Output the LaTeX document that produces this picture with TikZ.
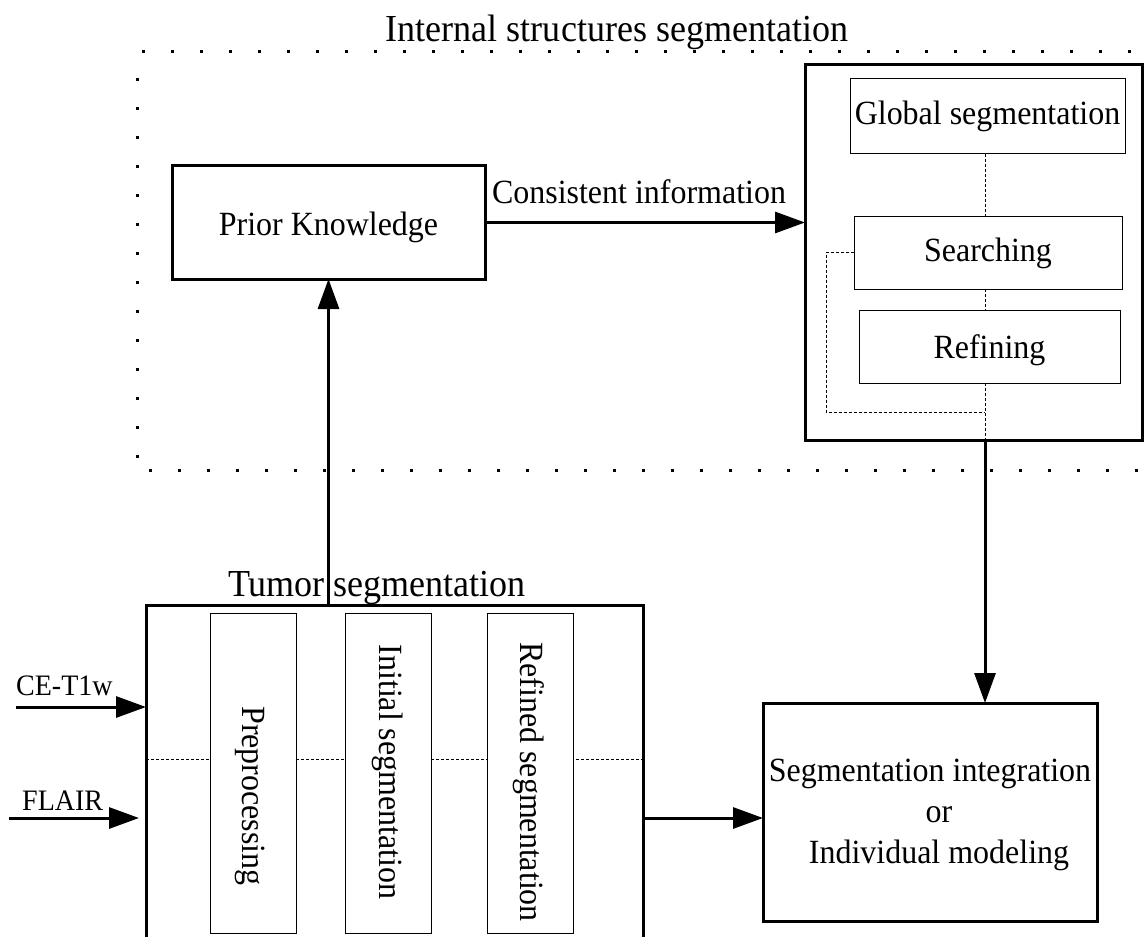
\documentclass[tikz,border=0pt]{standalone}
\usepackage{fontspec}
\setmainfont{Liberation Serif}[FakeStretch=0.943]
\usetikzlibrary{arrows.meta}
\begin{document}
\begin{tikzpicture}[x=1pt,y=-1pt,
  thick box/.style={draw, line width=3pt, inner sep=0pt, outer sep=0pt},
  thin box/.style={draw, line width=1pt, inner sep=0pt, outer sep=0pt, fill=white},
  body/.style={font=\fontsize{33.9}{41}\selectfont},
  big/.style={font=\fontsize{38.2}{45}\selectfont},
  small/.style={font=\fontsize{29.7}{36}\selectfont},
  inlabel/.style={label={[body, align=center, yshift=#1]center:}},
  arr/.style={line width=3pt, -{Triangle[length=30pt,width=21pt]}},
  dsh/.style={line width=0.8pt, dash pattern=on 3pt off 2pt},
  dots/.style={line width=3pt, dash pattern=on 3pt off 26pt},
]
\useasboundingbox (0,0) rectangle (1147,936);
\clip (0,0) rectangle (1147,936);

% dotted frame of the internal-structures stage (open on the right)
\draw[dots] (142,52) -- (1147,52);
\draw[dots] (137,78) -- (137,462);
\draw[dots] (149,470) -- (1147,470);
\node[big, anchor=base] (ttl) at (617,42) {Internal structures segmentation};

% internal structures stage
\node[thick box, minimum width=313pt, minimum height=113pt,
  label={[body, yshift=-5pt]center:Prior Knowledge}] (prior) at (328.5,222.5) {};
\node[thick box, minimum width=337pt, minimum height=375pt] (outer) at (973.5,252.5) {};
\node[thin box, minimum width=275pt, minimum height=75pt, body] (global) at (987.5,116.5) {Global segmentation};
\node[thin box, minimum width=268pt, minimum height=73pt,
  label={[body, yshift=-1pt]center:Searching}] (search) at (988,252.5) {};
\node[thin box, minimum width=261pt, minimum height=73pt,
  label={[body, yshift=-4pt]center:Refining}] (refine) at (989.5,346.5) {};

% final stage
\node[thick box, minimum width=334pt, minimum height=218pt,
  label={[body, align=center, yshift=-3pt]center:Segmentation integration\\\hspace*{18pt}or\\\hspace*{18pt}Individual modeling}]
  (seg) at (930,812) {};

% tumor segmentation stage (box runs past the lower edge)
\node[thick box, anchor=north west, minimum width=497pt, minimum height=360pt] (tumor) at (146,605) {};
\node[big, anchor=base] (tumT) at (377,596) {Tumor segmentation};

% dashed line through the tumor stage
\coordinate (my) at (0,759);
\draw[dsh] (tumor.west |- my) -- (tumor.east |- my);

\node[thin box, minimum width=86pt, minimum height=320pt] (pre) at (253,773.5) {};
\node[thin box, minimum width=86pt, minimum height=320pt] (init) at (388,773) {};
\node[thin box, minimum width=86pt, minimum height=320pt] (refd) at (530,773) {};
\node[body, rotate=-90] (preT) at (250,796) {Preprocessing};
\node[body, rotate=-90] (initT) at (388,772) {Initial segmentation};
\node[body, rotate=-90] (refdT) at (529,782) {Refined segmentation};

% inputs
\node[small, anchor=base west, inner sep=0pt] (ceL) at (16,695) {CE-T1w};
\node[small, anchor=base west, inner sep=0pt] (flL) at (22,810) {FLAIR};
\coordinate (ceS) at (16,707);
\coordinate (flS) at (9,818);
\coordinate (flE) at (139,818);
\draw[arr] (ceS) -- (ceS -| tumor.west);
\draw[arr] (flS) -- (flE);

% main connectors
\draw[arr] (prior.east) -- (prior.east -| outer.west);
\node[body, anchor=base, inner sep=0pt] (consL) at (639,204) {Consistent information};
\draw[arr] (prior.south |- tumor.north) -- (prior.south);
\coordinate (dx) at (985,0);
\draw[arr] (outer.south -| dx) -- (seg.north -| dx);
\coordinate (oy) at (0,818);
\draw[arr] (tumor.east |- oy) -- (seg.west |- oy);

% dashed links inside the internal-structures box
\draw[dsh] (global.south -| dx) -- (search.north -| dx);
\draw[dsh] (search.south -| dx) -- (refine.north -| dx);
\draw[dsh] (refine.south -| dx) -- (outer.south -| dx);
\coordinate (lp) at (826,412);
\draw[dsh] (search.west) -| (lp) -- (lp -| dx);
\end{tikzpicture}
\end{document}
